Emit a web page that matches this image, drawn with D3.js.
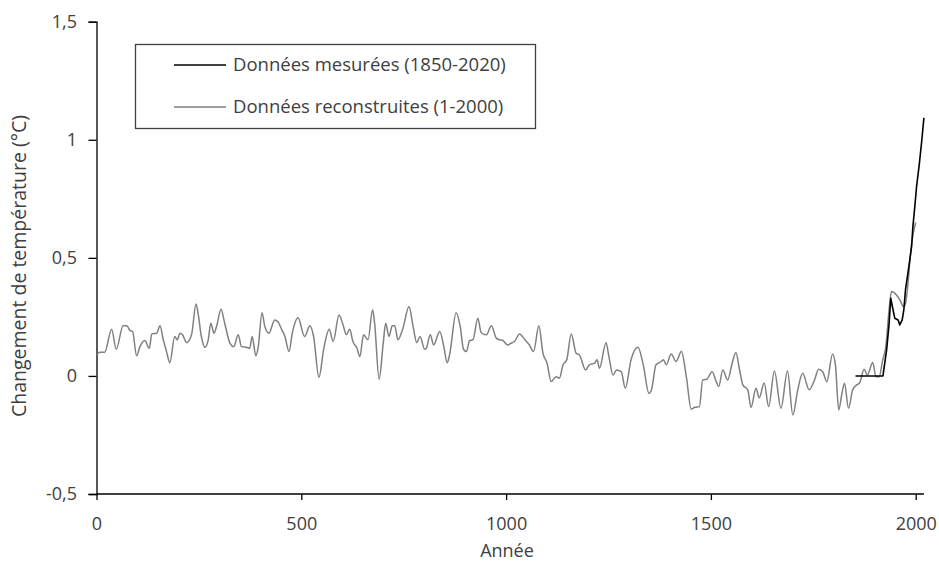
<!DOCTYPE html>
<html><head><meta charset="utf-8">
<script src="https://cdn.jsdelivr.net/npm/d3@7"></script>
<style>
html,body{margin:0;padding:0;background:#fff;}
svg{display:block;font-family:"Open Sans",sans-serif;}
</style></head>
<body><svg id="chart" width="939" height="568"></svg>
<script>
// ---- data ----
const reconstructedYears = [1,8,20,37,48,65,74,82,88,98,106,118,129,135,147,155,163,171,179,191,197,204,210,220,232,243,248,256,265,273,279,287,293,304,313,326,335,346,354,366,374,380,389,395,404,411,421,435,443,451,460,470,478,492,
508,521,530,543,555,568,578,592,602,610,618,626,636,643,652,663,674,679,690,700,706,714,722,728,736,748,763,773,782,790,801,805,815,823,838,848,856,862,878,888,896,903,911,919,931,939,952,964,976,984,992,1004,
1009,1021,1033,1045,1057,1067,1080,1090,1100,1110,1122,1130,1139,1148,1159,1171,1179,1194,1203,1216,1222,1228,1244,1251,1261,1270,1281,1291,1305,1322,1334,1349,1355,1366,1379,1384,1391,1403,1415,1428,1440,1452,1461,1472,1480,1490,1503,1513,1519,1529,1541,
1552,1561,1570,1578,1590,1598,1610,1618,1630,1641,1655,1671,1687,1700,1712,1724,1740,1753,1763,1773,1783,1797,1804,1812,1820,1826,1836,1846,
1856,1863,1874,1882,1895,1903,1911,1919,1927,1935,1941,1953,1962,1970,1974,1982,1986,1990,2000];
const reconstructedValues = [0.089,0.10,0.10,0.198,0.113,0.212,0.212,0.192,0.188,0.085,0.124,0.150,0.117,0.178,0.181,0.212,0.153,0.103,0.056,0.167,0.153,0.181,0.174,0.141,0.174,0.305,0.265,0.167,0.121,0.155,0.223,0.181,0.209,0.282,0.223,0.138,0.124,0.174,0.124,0.121,0.117,0.167,0.085,0.124,0.268,0.209,0.181,0.237,0.229,0.201,0.167,0.103,0.181,0.246,
0.167,0.212,0.167,-0.006,0.117,0.198,0.146,0.258,0.216,0.174,0.198,0.146,0.117,0.082,0.174,0.153,0.280,0.223,-0.014,0.138,0.223,0.167,0.212,0.212,0.153,0.201,0.294,0.209,0.141,0.167,0.113,0.117,0.174,0.131,0.188,0.124,0.056,0.089,0.268,0.209,0.113,0.103,0.150,0.153,0.244,0.184,0.174,0.212,0.160,0.153,0.150,0.131,
0.136,0.147,0.178,0.155,0.131,0.103,0.212,0.096,0.054,-0.024,-0.003,-0.010,0.047,0.068,0.178,0.096,0.089,0.025,0.047,0.054,0.068,0.033,0.141,0.082,0.004,0.025,0.018,-0.052,0.068,0.121,0.054,-0.074,-0.059,0.047,0.061,0.068,0.047,0.093,0.061,0.103,-0.003,-0.141,-0.133,-0.130,-0.017,-0.014,0.018,-0.024,-0.045,0.025,-0.017,
0.055,0.099,0.025,-0.038,-0.059,-0.133,-0.052,-0.093,-0.030,-0.130,0.021,-0.137,0.021,-0.165,-0.059,0.011,-0.059,-0.017,0.028,0.018,-0.025,0.093,0.047,-0.144,-0.073,-0.031,-0.137,-0.059,
-0.038,-0.030,0.028,0.004,0.057,-0.003,-0.003,0.064,0.124,0.280,0.357,0.343,0.320,0.294,0.300,0.407,0.491,0.560,0.650];

const measuredYears  = [1853,1920,1929,1935,1939,1943,1949,1957,1961,1967,1971,1975,1981,1990,1993,1998,2002,2009,2015,2020];
const measuredValues = [0,0,0.11,0.22,0.329,0.294,0.244,0.237,0.216,0.237,0.28,0.364,0.435,0.548,0.63,0.72,0.80,0.90,1.0,1.093];

const xTicks = [0,500,1000,1500,2000];
const yTicks = [-0.5,0,0.5,1,1.5];
const seriesNames = ["Données mesurées (1850-2020)","Données reconstruites (1-2000)"];
const xTitle = "Année";
const yTitle = "Changement de température (°C)";

// ---- drawing ----
const svg = d3.select("#chart");
const textColor = "#404040";
const x = d3.scaleLinear().domain([0,2020]).range([96.5,923.9]);
const y = d3.scaleLinear().domain([-0.5,1.5]).range([494,21.7]);
const loc = d3.formatLocale({decimal:",",thousands:" ",grouping:[3],currency:["","€"],minus:"-"});
const fmt = loc.format("~g");

const gx = svg.append("g").attr("transform","translate(0,494)")
  .call(d3.axisBottom(x).tickValues(xTicks).tickSize(6).tickPadding(17).tickFormat(d3.format("d")));
const gy = svg.append("g").attr("transform","translate(96.5,0)")
  .call(d3.axisLeft(y).tickValues(yTicks).tickSize(8).tickPadding(11.5).tickFormat(fmt));
[gx,gy].forEach(g=>{
  g.select(".domain").attr("stroke","#000").attr("stroke-width",1.3);
  g.selectAll(".tick line").attr("stroke","#000").attr("stroke-width",1.3);
  g.selectAll(".tick text").attr("fill",textColor).style("font-size","18px").style("font-family","'Open Sans',sans-serif");
});
gx.select(".domain").attr("d","M96.5,0H923.9");

const smooth = d3.line().x(d=>x(d[0])).y(d=>y(d[1])).curve(d3.curveMonotoneX);
const straight = d3.line().x(d=>x(d[0])).y(d=>y(d[1]));
const recon = reconstructedYears.map((yr,i)=>[yr,reconstructedValues[i]]);
const meas = measuredYears.map((yr,i)=>[yr,measuredValues[i]]);

svg.append("path").datum(recon).attr("d",smooth).attr("fill","none")
  .attr("stroke","#808080").attr("stroke-width",1.5).attr("stroke-linejoin","round");
svg.append("path").datum(meas).attr("d",straight).attr("fill","none")
  .attr("stroke","#000").attr("stroke-width",1.6).attr("stroke-linejoin","round");

// axis titles
svg.append("text").attr("x",507).attr("y",557).attr("text-anchor","middle")
  .attr("fill",textColor).style("font-size","18px").text(xTitle);
svg.append("text").attr("transform","translate(26,266) rotate(-90)").attr("text-anchor","middle")
  .attr("fill",textColor).style("font-size","19.5px").text(yTitle);

// legend
const lg = svg.append("g");
lg.append("rect").attr("x",135.5).attr("y",44.5).attr("width",400).attr("height",84)
  .attr("fill","#fff").attr("stroke","#404040").attr("stroke-width",1.3);
const legColors = ["#000","#808080"];
const legY = [65,107];
seriesNames.forEach((name,i)=>{
  lg.append("line").attr("x1",174).attr("x2",226).attr("y1",legY[i]).attr("y2",legY[i])
    .attr("stroke",legColors[i]).attr("stroke-width",1.5);
  lg.append("text").attr("x",233).attr("y",legY[i]).attr("dy","0.35em")
    .attr("fill",textColor).style("font-size","18.5px").text(name);
});
</script></body></html>
